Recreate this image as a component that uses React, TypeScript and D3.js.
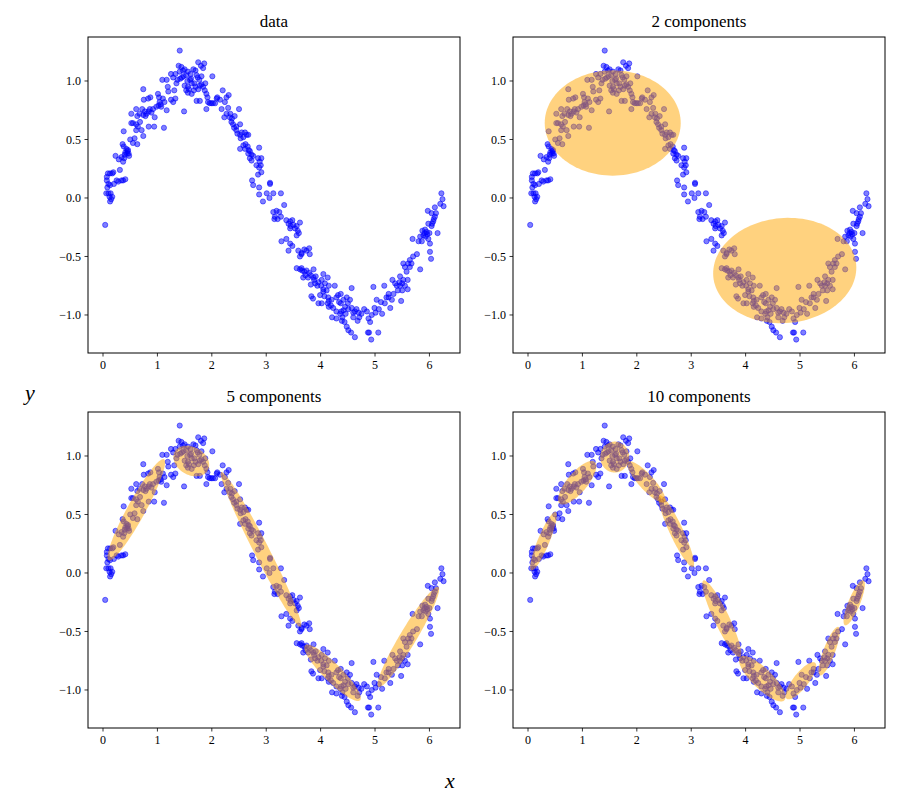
import React from "react";
import * as d3 from "d3";

// ---- data points (x, y) ----
const POINTS: [number, number][] = [
  [0.04, -0.23], [0.07, 0.18], [0.09, 0.21], [0.13, 0.21], [0.17, 0.21], [0.19, 0.22],
  [0.07, 0.15], [0.10, 0.12], [0.08, 0.09], [0.13, 0.11], [0.06, 0.04], [0.10, 0.04],
  [0.14, 0.04], [0.12, 0.01], [0.15, -0.01], [0.13, -0.03], [0.17, 0.01], [0.20, 0.12],
  [0.25, 0.15], [0.31, 0.24], [0.34, 0.15], [0.28, 0.14], [0.41, 0.16], [0.37, 0.15],
  [0.23, 0.36], [0.29, 0.33], [0.34, 0.35], [0.37, 0.31], [0.39, 0.34], [0.36, 0.46],
  [0.38, 0.44], [0.41, 0.39], [0.44, 0.38], [0.46, 0.41], [0.40, 0.37], [0.43, 0.42],
  [0.47, 0.38], [0.38, 0.57], [0.50, 0.50], [0.58, 0.51], [0.63, 0.46], [0.52, 0.64],
  [0.55, 0.64], [0.61, 0.63], [0.64, 0.61], [0.71, 0.58], [0.74, 0.53], [0.61, 0.58],
  [0.52, 0.72], [0.61, 0.76], [0.63, 0.70], [0.67, 0.72], [0.72, 0.76], [0.77, 0.74],
  [0.80, 0.72], [0.84, 0.74], [0.74, 0.71], [0.89, 0.73], [0.86, 0.76], [0.92, 0.76],
  [0.95, 0.69], [0.84, 0.61], [0.94, 0.61], [1.12, 0.60], [0.75, 0.84], [0.83, 0.85],
  [0.87, 0.86], [0.74, 0.93], [1.01, 0.89], [1.03, 0.86], [1.04, 0.82], [1.02, 0.79],
  [1.07, 0.78], [1.10, 0.85], [1.13, 0.82], [1.17, 0.75], [1.20, 0.91], [1.19, 0.95],
  [1.09, 1.01], [1.17, 1.01], [1.25, 0.84], [1.29, 0.82], [1.33, 0.85], [1.31, 0.92],
  [1.25, 1.06], [1.29, 1.03], [1.33, 1.06], [1.37, 1.01], [1.41, 1.08], [1.39, 1.13],
  [1.44, 1.12], [1.47, 1.09], [1.49, 0.74], [1.41, 1.26], [1.45, 1.03], [1.50, 0.96],
  [1.53, 0.92], [1.56, 0.95], [1.53, 1.05], [1.56, 1.08], [1.61, 1.06], [1.60, 1.01],
  [1.63, 0.98], [1.56, 0.90], [1.63, 0.89], [1.67, 0.92], [1.70, 1.09], [1.72, 1.05],
  [1.75, 1.16], [1.77, 1.01], [1.80, 1.13], [1.81, 0.97], [1.84, 1.11], [1.86, 1.15],
  [1.81, 1.04], [1.84, 0.95], [1.87, 0.92], [1.90, 0.89], [1.88, 0.98], [1.92, 0.86],
  [1.75, 0.93], [1.78, 0.83], [1.72, 0.83], [1.93, 0.82], [1.90, 0.76], [1.96, 0.81],
  [2.01, 1.04], [1.99, 0.81], [2.02, 0.81], [2.06, 0.81], [2.09, 0.85], [2.10, 0.86],
  [2.15, 0.84], [2.18, 0.76], [2.20, 0.92], [2.24, 0.82], [2.27, 0.86], [2.31, 0.88],
  [2.23, 0.69], [2.27, 0.72], [2.30, 0.77], [2.33, 0.69], [2.36, 0.65], [2.37, 0.68],
  [2.39, 0.63], [2.42, 0.70], [2.41, 0.60], [2.45, 0.61], [2.50, 0.76], [2.52, 0.63],
  [2.47, 0.55], [2.52, 0.54], [2.55, 0.56], [2.58, 0.52], [2.61, 0.56], [2.64, 0.54],
  [2.67, 0.54], [2.53, 0.51], [2.52, 0.42], [2.58, 0.45], [2.61, 0.42], [2.66, 0.44],
  [2.70, 0.40], [2.67, 0.38], [2.73, 0.37], [2.76, 0.36], [2.87, 0.43], [2.70, 0.34],
  [2.73, 0.32], [2.85, 0.34], [2.88, 0.31], [2.91, 0.34], [2.82, 0.28], [2.87, 0.26],
  [2.90, 0.28], [2.85, 0.20], [2.91, 0.22], [2.74, 0.15], [2.76, 0.11], [2.87, 0.09],
  [3.07, 0.13], [3.07, 0.12], [3.01, 0.04], [3.13, 0.04], [3.27, 0.04], [2.87, 0.03],
  [2.94, -0.03], [3.06, 0.00], [3.33, -0.06], [3.13, -0.12], [3.19, -0.11], [3.24, -0.12],
  [3.16, -0.16], [3.15, -0.18], [3.21, -0.18], [3.27, -0.16], [3.37, -0.19], [3.44, -0.20],
  [3.48, -0.19], [3.41, -0.22], [3.45, -0.24], [3.50, -0.23], [3.56, -0.24], [3.44, -0.26],
  [3.53, -0.26], [3.62, -0.21], [3.58, -0.28], [3.56, -0.32], [3.60, -0.30], [3.37, -0.35],
  [3.28, -0.37], [3.44, -0.39], [3.48, -0.41], [3.41, -0.45], [3.59, -0.45], [3.65, -0.47],
  [3.70, -0.44], [3.74, -0.45], [3.79, -0.43], [3.62, -0.50], [3.65, -0.48], [3.80, -0.48],
  [3.56, -0.60], [3.62, -0.61], [3.65, -0.60], [3.70, -0.63], [3.74, -0.62], [3.79, -0.64],
  [3.87, -0.61], [3.82, -0.66], [3.68, -0.68], [3.77, -0.68], [3.87, -0.68], [3.91, -0.67],
  [3.96, -0.72], [4.02, -0.70], [4.05, -0.65], [3.82, -0.74], [3.90, -0.73], [3.94, -0.75],
  [4.01, -0.75], [4.08, -0.73], [4.13, -0.68], [4.15, -0.75], [4.26, -0.75], [4.11, -0.79],
  [4.05, -0.80], [3.83, -0.84], [3.86, -0.86], [3.99, -0.83], [4.07, -0.84], [4.14, -0.85],
  [3.96, -0.90], [4.02, -0.90], [4.13, -0.90], [4.20, -0.87], [4.19, -0.92], [4.23, -0.94],
  [4.15, -0.93], [4.29, -0.85], [4.32, -0.83], [4.37, -0.82], [4.34, -0.89], [4.37, -0.90],
  [4.42, -0.87], [4.48, -0.85], [4.50, -0.90], [4.57, -0.77], [4.54, -0.87], [4.57, -0.94],
  [4.29, -0.97], [4.36, -0.99], [4.42, -0.96], [4.40, -1.02], [4.46, -0.99], [4.51, -0.95],
  [4.21, -1.02], [4.29, -1.03], [4.39, -1.05], [4.44, -1.06], [4.48, -1.10], [4.51, -1.13],
  [4.56, -1.15], [4.63, -1.19], [4.60, -1.02], [4.63, -0.97], [4.66, -0.95], [4.71, -1.02],
  [4.75, -0.99], [4.68, -1.05], [4.80, -0.95], [4.85, -0.97], [4.88, -1.03], [4.87, -1.15],
  [4.89, -1.15], [4.93, -1.21], [4.91, -1.06], [4.94, -1.00], [4.97, -0.76], [4.99, -0.94],
  [5.01, -0.98], [5.03, -0.87], [5.06, -1.15], [5.07, -0.95], [5.11, -0.89], [5.13, -0.99],
  [5.17, -0.75], [5.18, -0.90], [5.21, -0.85], [5.25, -0.82], [5.28, -0.94], [5.31, -0.87],
  [5.34, -0.82], [5.32, -0.70], [5.37, -0.73], [5.40, -0.75], [5.42, -0.79], [5.46, -0.75],
  [5.48, -0.88], [5.50, -0.79], [5.46, -0.67], [5.52, -0.70], [5.55, -0.75], [5.60, -0.78],
  [5.60, -0.70], [5.58, -0.63], [5.52, -0.56], [5.55, -0.59], [5.61, -0.56], [5.64, -0.53],
  [5.67, -0.56], [5.70, -0.50], [5.77, -0.48], [5.83, -0.61], [5.64, -0.59], [5.69, -0.35],
  [5.80, -0.37], [5.83, -0.33], [5.86, -0.37], [5.87, -0.28], [5.91, -0.30], [5.93, -0.33],
  [5.95, -0.29], [5.98, -0.35], [6.01, -0.39], [6.01, -0.46], [6.03, -0.52], [5.98, -0.22],
  [6.04, -0.24], [6.07, -0.20], [6.10, -0.16], [6.15, -0.30], [6.12, -0.13], [5.97, -0.11],
  [6.04, -0.13], [6.10, -0.08], [6.20, -0.05], [6.24, -0.01], [6.22, 0.04], [6.26, -0.07],
  [1.35, 0.98], [1.42, 1.02], [1.48, 1.04], [1.55, 1.00], [1.62, 1.02], [1.68, 0.98],
  [1.74, 1.03], [1.78, 0.96], [1.50, 1.10], [1.66, 1.10], [1.58, 0.93], [1.70, 0.95],
  [0.45, 0.40], [0.48, 0.36], [0.55, 0.47], [0.68, 0.65], [0.78, 0.70], [0.98, 0.78],
  [1.06, 0.80], [2.62, 0.46], [2.68, 0.41], [2.45, 0.58], [2.34, 0.72], [4.38, -0.97],
  [4.45, -0.93], [4.60, -0.98], [4.70, -0.98], [4.15, -0.88], [4.05, -0.78], [5.92, -0.27],
  [5.96, -0.31], [6.00, -0.30], [5.89, -0.32], [6.05, -0.22], [6.08, -0.18], [5.45, -0.72],
  [5.50, -0.73], [5.25, -0.85], [3.66, -0.62], [3.72, -0.66], [3.88, -0.70],
];

// ---- mixture components: mean (cx, cy) and two conjugate semi-axes (a, b) in data units ----
type Comp = { cx: number; cy: number; ax: number; ay: number; bx: number; by: number };

const COMP_2: Comp[] = [
  { cx: 1.557, cy: 0.641, ax: 1.25, ay: 0.0, bx: 0.0, by: 0.45 },
  { cx: 4.719, cy: -0.62, ax: 1.313, ay: 0.053, bx: 0.085, by: -0.447 },
];

const COMP_5: Comp[] = [
  { cx: 0.612, cy: 0.54, ax: 0.509, ay: 0.432, bx: 0.145, by: -0.037 },
  { cx: 1.623, cy: 0.957, ax: 0.303, ay: -0.081, bx: -0.129, by: -0.103 },
  { cx: 2.904, cy: 0.201, ax: 0.73, ay: -0.662, bx: 0.123, by: 0.029 },
  { cx: 4.219, cy: -0.853, ax: 0.506, ay: -0.235, bx: 0.118, by: 0.055 },
  { cx: 5.612, cy: -0.547, ax: 0.551, ay: 0.427, bx: 0.131, by: -0.037 },
];

const COMP_10: Comp[] = [
  { cx: 0.285, cy: 0.272, ax: 0.224, ay: 0.25, bx: 0.099, by: -0.019 },
  { cx: 0.904, cy: 0.771, ax: 0.322, ay: 0.178, bx: 0.141, by: -0.055 },
  { cx: 1.594, cy: 0.991, ax: 0.267, ay: 0.0, bx: 0.0, by: 0.132 },
  { cx: 2.175, cy: 0.778, ax: 0.336, ay: -0.171, bx: 0.101, by: 0.044 },
  { cx: 2.726, cy: 0.357, ax: 0.307, ay: -0.306, bx: 0.112, by: 0.024 },
  { cx: 3.561, cy: -0.391, ax: 0.336, ay: -0.327, bx: 0.125, by: 0.027 },
  { cx: 4.305, cy: -0.903, ax: 0.408, ay: -0.185, bx: 0.129, by: 0.062 },
  { cx: 5.015, cy: -0.921, ax: 0.261, ay: 0.154, bx: 0.108, by: -0.04 },
  { cx: 5.537, cy: -0.668, ax: 0.169, ay: 0.207, bx: 0.099, by: -0.018 },
  { cx: 5.996, cy: -0.255, ax: 0.169, ay: 0.192, bx: 0.099, by: -0.019 },
];

const TITLES = ["data", "2 components", "5 components", "10 components"];
const PANEL_COMPS: Comp[][] = [[], COMP_2, COMP_5, COMP_10];
const X_TICKS = [0, 1, 2, 3, 4, 5, 6];
const Y_TICKS = [-1.0, -0.5, 0.0, 0.5, 1.0];
const X_DOMAIN: [number, number] = [-0.276, 6.562];
const Y_DOMAIN: [number, number] = [-1.325, 1.376];

const FONT = "'Liberation Serif', 'DejaVu Serif', serif";
const PW = 372;
const PH = 316;
const ORIGINS: [number, number][] = [
  [88, 37],
  [513, 37],
  [88, 412],
  [513, 412],
];

function Panel({ idx }: { idx: number }) {
  const [ox, oy] = ORIGINS[idx];
  const x = d3.scaleLinear().domain(X_DOMAIN).range([0, PW]);
  const y = d3.scaleLinear().domain(Y_DOMAIN).range([PH, 0]);
  const fmt = d3.format(".1f");
  const line = d3
    .line<[number, number]>()
    .x((d) => x(d[0]))
    .y((d) => y(d[1]))
    .curve(d3.curveLinearClosed);
  const ts = d3.range(0, 2 * Math.PI, Math.PI / 60);
  const clipId = `clip-${idx}`;
  return (
    <g transform={`translate(${ox},${oy})`}>
      <defs>
        <clipPath id={clipId}>
          <rect x={0} y={0} width={PW} height={PH} />
        </clipPath>
      </defs>
      <g clipPath={`url(#${clipId})`}>
        <g>
          {POINTS.map((p, i) => (
            <circle
              key={i}
              cx={x(p[0])}
              cy={y(p[1])}
              r={2.6}
              fill="#0000ff"
              fillOpacity={0.5}
              stroke="#0000ff"
              strokeOpacity={0.5}
              strokeWidth={1}
            />
          ))}
        </g>
        {PANEL_COMPS[idx].map((c, i) => {
          const pts = ts.map(
            (t) =>
              [
                c.cx + c.ax * Math.cos(t) + c.bx * Math.sin(t),
                c.cy + c.ay * Math.cos(t) + c.by * Math.sin(t),
              ] as [number, number]
          );
          return <path key={i} d={line(pts) || ""} fill="#ffa500" fillOpacity={0.5} stroke="none" />;
        })}
      </g>
      <rect x={0} y={0} width={PW} height={PH} fill="none" stroke="#000" strokeWidth={1} />
      {X_TICKS.map((t) => (
        <g key={t} transform={`translate(${x(t)},${PH})`}>
          <line y1={0} y2={3.5} stroke="#000" strokeWidth={0.8} />
          <text y={16} textAnchor="middle" fontSize={12} fontFamily={FONT}>
            {String(t)}
          </text>
        </g>
      ))}
      {Y_TICKS.map((t) => (
        <g key={t} transform={`translate(0,${y(t)})`}>
          <line x1={0} x2={-3.5} stroke="#000" strokeWidth={0.8} />
          <text x={-7} dy="0.35em" textAnchor="end" fontSize={12} fontFamily={FONT}>
            {fmt(t).replace("-", "\u2212")}
          </text>
        </g>
      ))}
      <text x={PW / 2} y={-10} textAnchor="middle" fontSize={17} fontFamily={FONT}>
        {TITLES[idx]}
      </text>
    </g>
  );
}

export default function App() {
  return (
    <svg width={900} height={800} style={{ display: "block", position: "absolute", left: 0, top: 0 }}>
      <rect width={900} height={800} fill="#fff" />
      {[0, 1, 2, 3].map((i) => (
        <Panel key={i} idx={i} />
      ))}
      <text x={450} y={788} textAnchor="middle" fontSize={22} fontStyle="italic" fontFamily={FONT}>
        x
      </text>
      <text x={30} y={400} textAnchor="middle" fontSize={22} fontStyle="italic" fontFamily={FONT}>
        y
      </text>
    </svg>
  );
}
